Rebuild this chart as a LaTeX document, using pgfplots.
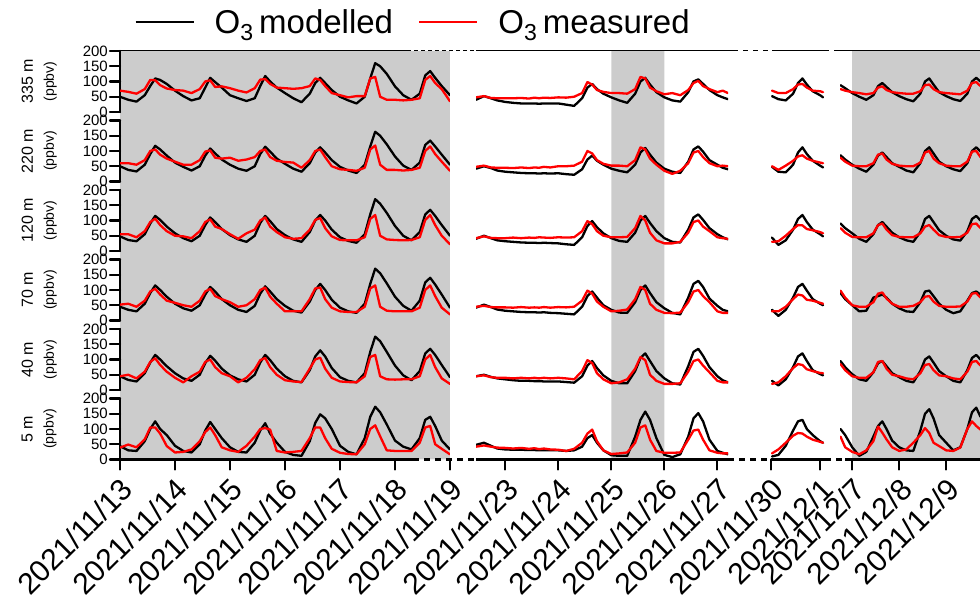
\documentclass[border=0pt]{standalone}
\usepackage{fontspec}
\setmainfont{Liberation Sans}
\usepackage{pgfplots}
\usepackage{pgfplotstable}
\pgfplotsset{compat=1.18}

\definecolor{shade}{RGB}{204,204,204}
\definecolor{obsred}{RGB}{255,0,0}

\newcommand\xtfont{\fontsize{30}{30}\selectfont}
\newcommand\ytfont{\fontsize{15}{15}\selectfont}
\newcommand\legfont{\fontsize{33}{33}\selectfont}

% t = days since 2021/11/13 00:00, m = modelled O3, o = measured O3 (ppbv)
\pgfplotstableread{
t m o
0 50 70
0.15 40 66
0.3 34 60
0.45 55 75
0.55 85 105
0.64 110 104
0.73 105 88
0.85 92 77
1 70 72
1.15 52 70
1.3 38 62
1.45 45 75
1.55 80 100
1.64 112 104
1.73 98 82
1.85 80 84
2 55 78
2.15 45 70
2.3 36 64
2.45 45 78
2.55 85 106
2.64 118 108
2.73 100 92
2.85 80 80
3 62 78
3.15 45 76
3.3 32 78
3.45 60 85
3.55 95 110
3.64 112 105
3.73 95 85
3.85 72 62
4 50 55
4.15 38 48
4.3 28 52
4.45 50 52
4.55 110 110
4.64 160 115
4.73 150 50
4.85 125 40
5 84 40
5.15 55 38
5.3 40 40
5.45 60 45
5.55 120 105
5.64 134 118
5.73 112 95
5.85 85 75
6 55 35
9.45 40 48
9.6 52 52
9.73 45 46
9.85 38 45
10 33 45
10.15 30 45
10.3 28 46
10.45 28 44
10.55 28 47
10.64 27 45
10.73 28 47
10.85 28 46
11 28 48
11.15 24 47
11.3 20 50
11.45 45 62
11.55 80 98
11.64 92 90
11.73 75 72
11.85 60 66
12 48 62
12.15 38 62
12.3 30 60
12.45 60 75
12.55 100 115
12.64 112 110
12.73 90 80
12.85 65 68
13 48 58
13.15 38 62
13.3 34 55
13.45 65 72
13.55 100 95
13.64 107 102
13.73 92 85
13.85 72 75
14 55 65
14.1 48 70
14.2 42 62
17.02 52 70
17.15 42 62
17.3 38 62
17.45 60 75
17.55 95 90
17.64 110 92
17.73 90 80
17.85 68 70
18 55 68
18.06 48 65
23.75 88 75
23.85 78 70
24 62 65
24.15 50 62
24.3 40 58
24.45 55 62
24.55 85 80
24.64 95 84
24.73 82 72
24.85 65 65
25 52 62
25.15 42 60
25.3 35 60
25.45 60 68
25.55 100 88
25.64 110 90
25.73 90 75
25.85 65 65
26 52 62
26.15 42 60
26.3 36 58
26.45 60 70
26.55 100 95
26.64 112 98
26.73 100 85
}\rowA

\pgfplotstableread{
t m o
0 50 60
0.15 38 60
0.3 33 55
0.45 55 70
0.55 90 100
0.64 117 105
0.73 105 88
0.85 85 75
1 62 65
1.15 48 55
1.3 36 55
1.45 50 70
1.55 85 98
1.64 108 102
1.73 92 78
1.85 72 75
2 55 78
2.15 42 68
2.3 35 72
2.45 50 80
2.55 90 100
2.64 114 105
2.73 98 80
2.85 75 68
3 58 64
3.15 42 62
3.3 32 45
3.45 60 70
3.55 95 100
3.64 112 105
3.73 95 80
3.85 70 50
4 48 40
4.15 36 38
4.3 28 35
4.45 55 45
4.55 115 105
4.64 163 118
4.73 150 55
4.85 122 38
5 82 38
5.15 52 36
5.3 38 38
5.45 62 45
5.55 120 100
5.64 134 115
5.73 115 90
5.85 88 65
6 55 35
9.45 42 48
9.6 50 52
9.73 44 46
9.85 36 45
10 32 45
10.15 30 44
10.3 28 46
10.45 27 44
10.55 27 46
10.64 26 45
10.73 27 48
10.85 26 46
11 27 50
11.15 24 50
11.3 22 52
11.45 40 65
11.55 72 100
11.64 85 92
11.73 68 70
11.85 55 58
12 42 52
12.15 35 52
12.3 30 50
12.45 55 70
12.55 95 112
12.64 110 105
12.73 88 75
12.85 62 55
13 42 35
13.15 32 25
13.3 28 35
13.45 65 60
13.55 105 95
13.64 115 100
13.73 98 80
13.85 70 60
14 55 50
14.1 45 52
14.2 40 50
17.02 48 50
17.15 32 38
17.3 30 52
17.45 55 68
17.55 95 82
17.64 112 86
17.73 90 75
17.85 68 68
18 52 62
18.06 46 60
23.75 86 78
23.85 72 65
24 55 52
24.15 42 50
24.3 32 50
24.45 55 60
24.55 85 88
24.64 95 92
24.73 80 72
24.85 60 58
25 48 52
25.15 36 50
25.3 30 50
25.45 60 62
25.55 100 95
25.64 112 100
25.73 92 75
25.85 65 60
26 50 52
26.15 40 50
26.3 34 50
26.45 60 65
26.55 100 98
26.64 112 100
26.73 98 80
}\rowB

\pgfplotstableread{
t m o
0 48 55
0.15 36 55
0.3 32 45
0.45 55 65
0.55 90 95
0.64 115 106
0.73 102 85
0.85 80 65
1 58 50
1.15 42 48
1.3 32 42
1.45 50 65
1.55 85 95
1.64 110 104
1.73 95 80
1.85 72 72
2 52 55
2.15 38 40
2.3 30 58
2.45 50 70
2.55 92 100
2.64 115 110
2.73 98 80
2.85 72 62
3 52 45
3.15 38 40
3.3 30 42
3.45 62 70
3.55 100 102
3.64 118 108
3.73 100 75
3.85 70 48
4 45 36
4.15 33 35
4.3 27 35
4.45 55 45
4.55 120 105
4.64 170 118
4.73 155 50
4.85 125 38
5 82 36
5.15 50 35
5.3 35 36
5.45 62 45
5.55 120 102
5.64 135 118
5.73 115 85
5.85 85 50
6 50 22
9.45 40 42
9.6 50 48
9.73 42 43
9.85 35 42
10 32 42
10.15 30 44
10.3 28 42
10.45 27 44
10.55 27 43
10.64 26 45
10.73 27 44
10.85 26 43
11 25 45
11.15 22 44
11.3 20 45
11.45 45 65
11.55 82 98
11.64 98 88
11.73 78 65
11.85 58 50
12 42 45
12.15 33 45
12.3 30 46
12.45 60 75
12.55 100 115
12.64 115 100
12.73 92 60
12.85 65 35
13 42 25
13.15 30 25
13.3 28 30
13.45 70 60
13.55 110 95
13.64 120 100
13.73 102 80
13.85 75 65
14 55 45
14.1 45 42
14.2 38 40
17.02 44 30
17.15 20 32
17.3 35 50
17.45 70 72
17.55 105 85
17.64 118 84
17.73 95 72
17.85 70 68
18 55 62
18.06 48 58
23.75 90 75
23.85 75 60
24 58 46
24.15 40 45
24.3 30 45
24.45 55 58
24.55 85 85
24.64 95 90
24.73 80 70
24.85 60 52
25 45 46
25.15 35 45
25.3 30 45
25.45 62 58
25.55 105 80
25.64 115 85
25.73 95 70
25.85 68 52
26 50 46
26.15 38 45
26.3 34 46
26.45 65 60
26.55 105 88
26.64 115 90
26.73 100 75
}\rowC

\pgfplotstableread{
t m o
0 45 52
0.15 35 55
0.3 30 45
0.45 55 65
0.55 90 95
0.64 115 104
0.73 100 85
0.85 78 65
1 55 58
1.15 40 50
1.3 32 45
1.45 50 65
1.55 85 95
1.64 110 104
1.73 95 80
1.85 70 70
2 50 60
2.15 35 45
2.3 28 50
2.45 48 70
2.55 88 100
2.64 112 108
2.73 95 78
2.85 70 55
3 48 30
3.15 32 30
3.3 26 30
3.45 62 70
3.55 100 105
3.64 120 108
3.73 100 70
3.85 68 42
4 42 30
4.15 30 28
4.3 25 28
4.45 55 45
4.55 120 105
4.64 170 115
4.73 155 45
4.85 122 32
5 78 30
5.15 48 30
5.3 32 30
5.45 65 42
5.55 125 100
5.64 140 115
5.73 118 80
5.85 85 42
6 42 20
9.45 42 45
9.6 52 48
9.73 44 44
9.85 36 43
10 32 43
10.15 30 42
10.3 28 44
10.45 27 42
10.55 27 43
10.64 26 42
10.73 27 44
10.85 25 42
11 24 44
11.15 22 43
11.3 20 45
11.45 45 65
11.55 80 98
11.64 95 88
11.73 75 62
11.85 50 45
12 35 30
12.15 26 32
12.3 25 36
12.45 60 70
12.55 100 110
12.64 115 100
12.73 90 55
12.85 60 35
13 40 25
13.15 25 24
13.3 20 26
13.45 75 60
13.55 120 95
13.64 130 100
13.73 110 80
13.85 72 60
14 48 30
14.1 35 25
14.2 30 25
17.02 35 30
17.15 15 30
17.3 35 45
17.45 75 70
17.55 110 85
17.64 120 82
17.73 98 68
17.85 70 65
18 55 58
18.06 50 55
23.75 90 98
23.85 70 75
24 50 50
24.15 30 45
24.3 32 45
24.45 75 60
24.55 80 88
24.64 85 92
24.73 75 72
24.85 55 55
25 40 45
25.15 30 45
25.3 28 48
25.45 60 60
25.55 95 78
25.64 98 80
25.73 80 62
25.85 55 48
26 35 45
26.15 24 45
26.3 30 46
26.45 65 62
26.55 90 88
26.64 95 90
26.73 85 75
}\rowD

\pgfplotstableread{
t m o
0 45 45
0.15 33 50
0.3 28 38
0.45 55 60
0.55 90 92
0.64 115 104
0.73 100 82
0.85 78 60
1 55 40
1.15 38 25
1.3 30 45
1.45 50 60
1.55 88 92
1.64 112 100
1.73 96 75
1.85 70 55
2 48 45
2.15 35 25
2.3 28 40
2.45 50 68
2.55 90 98
2.64 115 105
2.73 98 75
2.85 70 50
3 45 32
3.15 30 28
3.3 25 26
3.45 65 70
3.55 110 100
3.64 130 106
3.73 110 70
3.85 72 40
4 42 28
4.15 30 26
4.3 25 25
4.45 55 45
4.55 125 108
4.64 175 115
4.73 160 45
4.85 125 35
5 80 34
5.15 48 35
5.3 32 35
5.45 62 45
5.55 120 100
5.64 135 115
5.73 115 75
5.85 82 38
6 42 20
9.45 45 45
9.6 50 48
9.73 43 42
9.85 38 40
10 35 40
10.15 32 38
10.3 30 40
10.45 30 38
10.55 29 40
10.64 29 38
10.73 28 40
10.85 28 38
11 28 40
11.15 26 38
11.3 24 35
11.45 45 62
11.55 80 98
11.64 95 88
11.73 72 55
11.85 48 35
12 30 22
12.15 22 25
12.3 22 35
12.45 62 70
12.55 105 108
12.64 120 98
12.73 95 50
12.85 62 30
13 38 20
13.15 22 20
13.3 18 22
13.45 78 60
13.55 125 95
13.64 135 100
13.73 112 80
13.85 75 58
14 45 30
14.1 32 25
14.2 25 25
17.02 30 20
17.15 15 25
17.3 35 45
17.45 75 72
17.55 110 85
17.64 120 82
17.73 95 68
17.85 65 62
18 52 56
18.06 48 55
23.75 95 85
23.85 75 65
24 52 45
24.15 35 40
24.3 30 40
24.45 58 58
24.55 88 92
24.64 95 95
24.73 78 70
24.85 55 50
25 42 45
25.15 30 38
25.3 25 35
25.45 62 55
25.55 100 82
25.64 110 85
25.73 90 65
25.85 62 48
26 45 45
26.15 30 38
26.3 25 35
26.45 65 60
26.55 105 92
26.64 115 95
26.73 100 80
}\rowE

\pgfplotstableread{
t m o
0 44 39
0.15 30 49
0.3 28 40
0.45 60 66
0.55 100 105
0.64 125 105
0.73 100 85
0.85 80 44
1 45 23
1.15 28 25
1.3 23 33
1.45 50 60
1.55 95 90
1.64 123 105
1.73 100 80
1.85 70 40
2 40 30
2.15 25 25
2.3 23 45
2.45 55 75
2.55 95 100
2.64 119 103
2.73 85 98
2.85 55 28
3 25 23
3.15 15 25
3.3 12 28
3.45 60 70
3.55 120 105
3.64 148 105
3.73 135 70
3.85 100 35
4 45 22
4.15 25 18
4.3 17 17
4.45 70 50
4.55 140 100
4.64 173 112
4.73 155 76
4.85 115 30
5 62 28
5.15 42 28
5.3 33 28
5.45 70 55
5.55 130 105
5.64 140 110
5.73 110 50
5.85 62 35
6 33 17
9.45 48 42
9.6 55 46
9.73 45 42
9.85 36 39
10 33 38
10.15 32 36
10.3 32 38
10.45 31 35
10.55 31 37
10.64 30 34
10.73 30 36
10.85 30 33
11 30 32
11.15 28 28
11.3 30 35
11.45 42 55
11.55 70 85
11.64 80 98
11.73 55 60
11.85 30 30
12 14 18
12.15 12 20
12.3 12 23
12.45 75 55
12.55 130 105
12.64 157 112
12.73 130 65
12.85 70 28
13 15 22
13.15 8 22
13.3 17 23
13.45 75 65
13.55 135 95
13.64 152 98
13.73 125 65
13.85 65 30
14 28 22
14.1 22 20
14.2 17 20
17.02 10 20
17.15 15 33
17.3 45 55
17.45 95 78
17.55 125 87
17.64 130 85
17.73 100 75
17.85 80 65
18 60 58
18.06 55 55
23.75 100 75
23.85 80 40
24 40 25
24.15 12 17
24.3 25 30
24.45 75 60
24.55 110 108
24.64 125 88
24.73 100 66
24.85 62 40
25 40 28
25.15 30 33
25.3 28 55
25.45 95 80
25.55 150 103
25.64 165 87
25.73 135 55
25.85 80 44
26 55 30
26.15 30 28
26.3 40 39
26.45 100 100
26.55 155 125
26.64 170 110
26.73 140 98
}\rowF

\pgfplotsset{
  /pgf/number format/assume math mode=true,
  every axis/.append style={scale only axis, anchor=south west, height=61pt,
    ymin=0, ymax=200, line join=round, line cap=round},
  legend image code/.code={\draw[#1] (0pt,0pt) -- (58pt,0pt);},
  model/.style={black, line width=2.3pt, no markers},
  meas/.style={obsred, line width=2.3pt, no markers},
  segA/.style={width=330pt, xmin=0, xmax=6, restrict x to domain=-0.05:6.05,
    xtick={0,1,2,3,4,5,6},
    xticklabels={2021/11/13,2021/11/14,2021/11/15,2021/11/16,2021/11/17,2021/11/18,2021/11/19}},
  segB/.style={width=252pt, xmin=9.45, xmax=14.2, restrict x to domain=9.4:14.25,
    xtick={10,11,12,13,14},
    xticklabels={2021/11/23,2021/11/24,2021/11/25,2021/11/26,2021/11/27}},
  segC/.style={width=54pt, xmin=17, xmax=18.1, restrict x to domain=16.95:18.15,
    xtick={17,18}, xticklabels={2021/11/30,2021/12/1}},
  segD/.style={width=140pt, xmin=23.74, xmax=26.72, restrict x to domain=23.7:26.8,
    xtick={24,25,26}, xticklabels={2021/12/7,2021/12/8,2021/12/9}},
  rowmid/.style={axis x line=none},
  rowbot/.style={axis x line*=bottom, x axis line style={draw=none},
    tick align=outside, major tick length=10pt,
    xtick style={line width=2.2pt, black},
    xticklabel style={xshift=8pt, yshift=-14pt, rotate=45, anchor=east,
      font=\xtfont, inner sep=1pt}},
  yaxis/.style={axis y line*=left, ytick={0,50,100,150,200},
    y axis line style={line width=2.4pt, -},
    ytick style={line width=2.4pt, black},
    tick align=outside, major tick length=10pt,
    yticklabel style={font=\ytfont, inner sep=2pt},
    ylabel style={at={(axis description cs:-0.245,0.5)}, anchor=center,
      align=center, font=\fontsize{16}{21}\selectfont}},
  toplegend/.style={
    legend entries={O\textsubscript{3}\,modelled, O\textsubscript{3}\,measured},
    legend columns=2,
    legend style={at={(0.888,1.475)}, anchor=center, draw=none, fill=none,
      font=\legfont, inner sep=0pt,
      /tikz/every odd column/.append style={column sep=18pt},
      /tikz/every even column/.append style={column sep=23pt}}},
  bg/.style={height=408.5pt, ymin=0, ymax=1, axis x line=none, axis y line=none},
}

\newcommand\panelrow[5]{%
  \begin{axis}[segA, #3, yaxis, at={(120pt,#1)}, ylabel={#4}, #5]
    \addplot[model] table[x=t,y=m]{#2};
    \addplot[meas] table[x=t,y=o]{#2};
  \end{axis}
  \begin{axis}[segB, #3, axis y line=none, at={(476pt,#1)}]
    \addplot[model] table[x=t,y=m]{#2};
    \addplot[meas] table[x=t,y=o]{#2};
  \end{axis}
  \begin{axis}[segC, #3, axis y line=none, at={(771pt,#1)}]
    \addplot[model] table[x=t,y=m]{#2};
    \addplot[meas] table[x=t,y=o]{#2};
  \end{axis}
  \begin{axis}[segD, #3, axis y line=none, at={(840pt,#1)}]
    \addplot[model] table[x=t,y=m]{#2};
    \addplot[meas] table[x=t,y=o]{#2};
  \end{axis}%
}

\begin{document}
\begin{tikzpicture}[x=1pt,y=1pt]
\path[use as bounding box] (0,0) rectangle (980,601);

% grey day shading, full height of each segment
\begin{axis}[bg, at={(120pt,141.5pt)}, width=330pt, xmin=0, xmax=6]
  \addplot[fill=shade, draw=none] coordinates {(0,0) (0,1) (6,1) (6,0)} \closedcycle;
\end{axis}
\begin{axis}[bg, at={(476pt,141.5pt)}, width=252pt, xmin=9.45, xmax=14.2]
  \addplot[fill=shade, draw=none] coordinates {(12,0) (12,1) (13,1) (13,0)} \closedcycle;
\end{axis}
\begin{axis}[bg, at={(840pt,141.5pt)}, width=140pt, xmin=23.74, xmax=26.72]
  \addplot[fill=shade, draw=none] coordinates {(24,0) (24,1) (26.72,1) (26.72,0)} \closedcycle;
\end{axis}

\panelrow{489pt}{\rowA}{rowmid}{335 m\\{\fontsize{14}{21}\selectfont(ppbv)}}{toplegend}
\panelrow{419.5pt}{\rowB}{rowmid}{220 m\\{\fontsize{14}{21}\selectfont(ppbv)}}{}
\panelrow{350pt}{\rowC}{rowmid}{120 m\\{\fontsize{14}{21}\selectfont(ppbv)}}{}
\panelrow{280.5pt}{\rowD}{rowmid}{70 m\\{\fontsize{14}{21}\selectfont(ppbv)}}{}
\panelrow{211pt}{\rowE}{rowmid}{40 m\\{\fontsize{14}{21}\selectfont(ppbv)}}{}
\panelrow{141.5pt}{\rowF}{rowbot}{5 m\\{\fontsize{14}{21}\selectfont(ppbv)}}{}

% broken x axis lines, bottom and top
\draw[line width=2.4pt] (118.8,141.5) -- (413,141.5);
\draw[line width=2.4pt, dash pattern=on 6pt off 5pt] (413,141.5) -- (476,141.5);
\draw[line width=2.4pt] (476,141.5) -- (728,141.5);
\draw[line width=2.4pt, dash pattern=on 6pt off 5pt] (728,141.5) -- (771,141.5);
\draw[line width=2.4pt] (771,141.5) -- (825,141.5);
\draw[line width=2.4pt, dash pattern=on 6pt off 5pt] (825,141.5) -- (845,141.5);
\draw[line width=2.4pt] (845,141.5) -- (980,141.5);
\draw[line width=1.6pt] (120,550.5) -- (407,550.5);
\draw[line width=1.6pt, dash pattern=on 4pt off 3pt] (407,550.5) -- (476,550.5);
\draw[line width=1.6pt] (476,550.5) -- (733,550.5);
\draw[line width=1.6pt, dash pattern=on 5pt off 5pt] (733,550.5) -- (772,550.5);
\draw[line width=1.6pt] (772,550.5) -- (824,550.5);
\draw[line width=1.6pt, dash pattern=on 5pt off 5pt] (824,550.5) -- (838,550.5);
\draw[line width=1.6pt] (838,550.5) -- (980,550.5);
\end{tikzpicture}
\end{document}
